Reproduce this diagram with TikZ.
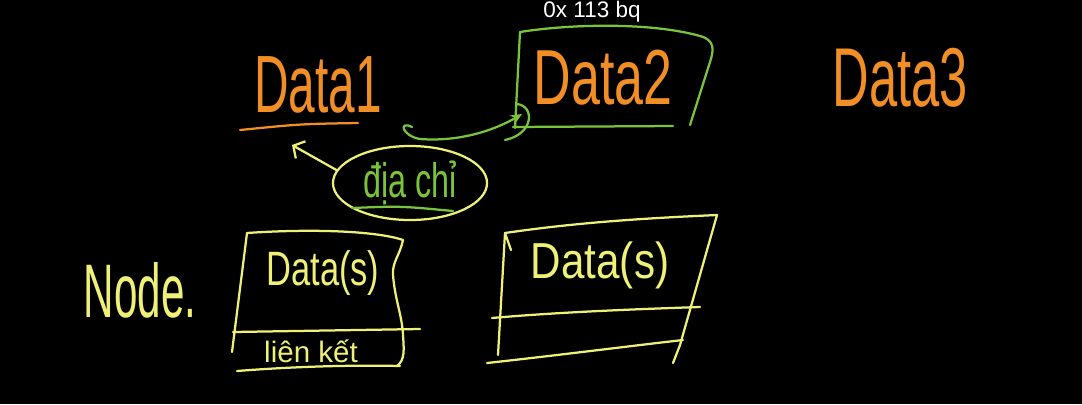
\documentclass[tikz,border=0pt]{standalone}
\usepackage{fontspec}
\setmainfont{Liberation Sans}
\usetikzlibrary{arrows.meta,shapes.geometric}
\definecolor{hworange}{RGB}{242,142,38}
\definecolor{hwgreen}{RGB}{122,196,60}
\definecolor{hwyellow}{RGB}{238,240,120}
\begin{document}
\begin{tikzpicture}[x=0.025cm,y=-0.025cm,
  ink/.style={line width=1.6pt,line cap=round,line join=round},
  lbl/.style={inner sep=0pt}]
\fill[black] (0,0) rectangle (1082,404);
\useasboundingbox (0,0) rectangle (1082,404);

% top address text
\node[lbl,text=white,font=\fontsize{16}{16}\selectfont,anchor=north] (addr) at (592,1) {0x 113 bq};

% Data1 with underline
\node[lbl,text=hworange,font=\fontsize{34}{34}\selectfont] (d1) at (318,85) {\scalebox{1}[1.7]{Data1}};
\draw[ink,hworange] (240,130) .. controls (300,124) .. (358,123);

% Data2 in green box
\node[lbl,text=hworange,font=\fontsize{37}{37}\selectfont] (d2) at (603,78) {\scalebox{1}[1.5]{Data2}};
\draw[ink,hwgreen] (520,32) .. controls (570,24) and (650,22) .. (700,36)
  .. controls (715,40) and (714,50) .. (710,62) -- (690,125);
\draw[ink,hwgreen] (520,32) -- (515,128);
\draw[ink,hwgreen] (513,127) -- (673,126);
\coordinate (d2corner) at (522,114);

% Data3
\node[lbl,text=hworange,font=\fontsize{36}{36}\selectfont] (d3) at (900,78) {\scalebox{1}[1.65]{Data3}};

% green arrow from Data1 to Data2
\coordinate (gstart) at (412,127);
\draw[ink,hwgreen,-{Stealth[length=8pt,width=7pt]}] (gstart) .. controls (398,120) and (402,136) .. (420,139)
  .. controls (460,142) and (495,130) .. (d2corner);
\draw[ink,hwgreen] (517,104) .. controls (535,106) and (534,134) .. (505,140);

% address ellipse
\node[ellipse,draw=hwyellow,ink,inner sep=0pt,minimum width=3.85cm,minimum height=1.85cm,
  text=hwgreen,font=\fontsize{23}{23}\selectfont] (dc) at (410,183) {\scalebox{1}[1.5]{địa chỉ}};
\draw[ink,hwgreen] (352,208) .. controls (400,206) .. (453,211);
\coordinate (d1tip) at (292,145);
\draw[ink,hwyellow,-{Straight Barb[length=6pt,width=14pt]}] (dc.170) -- (d1tip);

% Node label
\node[lbl,text=hwyellow,font=\fontsize{30}{30}\selectfont] (nodelbl) at (140,290) {\scalebox{1}[1.8]{Node.}};

% node box 1
\draw[ink,hwyellow] (247,233) .. controls (320,228) and (380,232) .. (403,240)
  .. controls (400,255) and (392,262) .. (393,275)
  .. controls (395,300) and (402,315) .. (403,335)
  .. controls (404,350) and (405,360) .. (397,366);
\draw[ink,hwyellow] (247,233) -- (232,352);
\draw[ink,hwyellow] (233,332) -- (420,329);
\draw[ink,hwyellow] (237,371) .. controls (300,366) and (360,365) .. (400,366);
\node[lbl,text=hwyellow,font=\fontsize{21}{21}\selectfont] (b1link) at (311,351) {liên kết};
\node[lbl,text=hwyellow,font=\fontsize{24.5}{24.5}\selectfont] (b1data) at (323,273) {\scalebox{1}[1.4]{Data(s)}};

% node box 2
\draw[ink,hwyellow] (505,233) .. controls (580,222) and (650,218) .. (717,215) -- (680,345) -- (673,363);
\draw[ink,hwyellow] (505,233) -- (498,355);
\draw[ink,hwyellow] (505,233) -- (511,250);
\draw[ink,hwyellow] (492,318) .. controls (560,312) and (640,309) .. (700,307);
\draw[ink,hwyellow] (487,363) .. controls (560,355) and (630,346) .. (683,340);
\node[lbl,text=hwyellow,font=\fontsize{30}{30}\selectfont] (b2data) at (600,265) {\scalebox{1}[1.2]{Data(s)}};
\end{tikzpicture}
\end{document}
